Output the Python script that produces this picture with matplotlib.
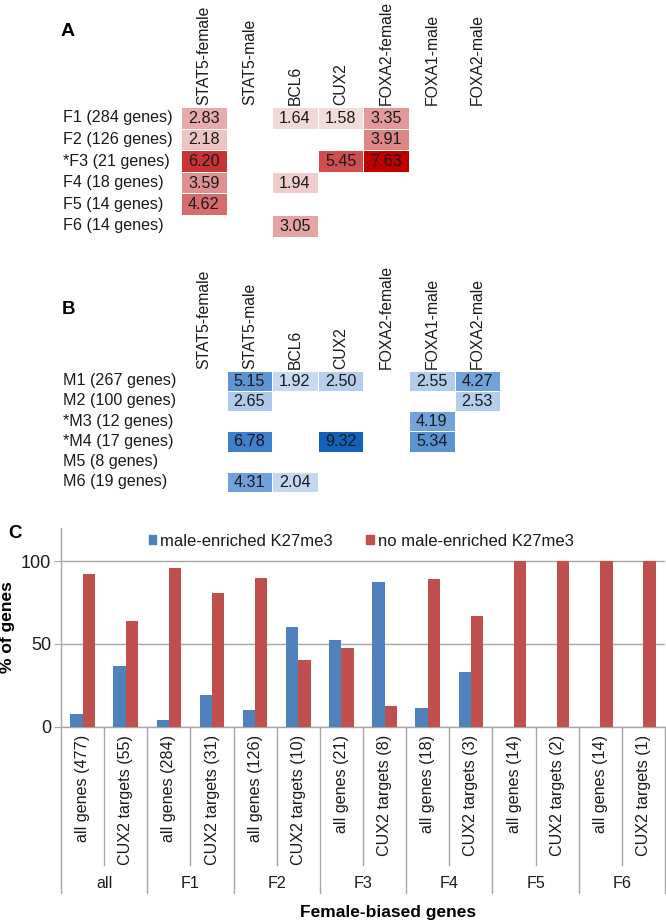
import numpy as np
import matplotlib
matplotlib.use("Agg")
import matplotlib.pyplot as plt
from matplotlib.colors import LinearSegmentedColormap
from matplotlib.transforms import blended_transform_factory
from matplotlib.patches import Patch

plt.rcParams['font.family'] = ['Liberation Sans', 'DejaVu Sans']

nan = np.nan
# ---------------- data ----------------
factors = ['STAT5-female', 'STAT5-male', 'BCL6', 'CUX2', 'FOXA2-female', 'FOXA1-male', 'FOXA2-male']

a_rows = ['F1 (284 genes)', 'F2 (126 genes)', '*F3 (21 genes)', 'F4 (18 genes)',
          'F5 (14 genes)', 'F6 (14 genes)']
a_F1 = [2.83, nan, 1.64, 1.58, 3.35, nan, nan]
a_F2 = [2.18, nan, nan, nan, 3.91, nan, nan]
a_F3 = [6.20, nan, nan, 5.45, 7.63, nan, nan]
a_F4 = [3.59, nan, 1.94, nan, nan, nan, nan]
a_F5 = [4.62, nan, nan, nan, nan, nan, nan]
a_F6 = [nan, nan, 3.05, nan, nan, nan, nan]

b_rows = ['M1 (267 genes)', 'M2 (100 genes)', '*M3 (12 genes)', '*M4 (17 genes)',
          'M5 (8 genes)', 'M6 (19 genes)']
b_M1 = [nan, 5.15, 1.92, 2.50, nan, 2.55, 4.27]
b_M2 = [nan, 2.65, nan, nan, nan, nan, 2.53]
b_M3 = [nan, nan, nan, nan, nan, 4.19, nan]
b_M4 = [nan, 6.78, nan, 9.32, nan, 5.34, nan]
b_M5 = [nan, nan, nan, nan, nan, nan, nan]
b_M6 = [nan, 4.31, 2.04, nan, nan, nan, nan]

c_categories = ['all genes (477)', 'CUX2 targets (55)', 'all genes (284)', 'CUX2 targets (31)',
                'all genes (126)', 'CUX2 targets (10)', 'all genes (21)', 'CUX2 targets (8)',
                'all genes (18)', 'CUX2 targets (3)', 'all genes (14)', 'CUX2 targets (2)',
                'all genes (14)', 'CUX2 targets (1)']
c_groups = ['all', 'F1', 'F2', 'F3', 'F4', 'F5', 'F6']
male_enriched = [7.5, 36.4, 3.9, 19.4, 10.3, 60.0, 52.4, 87.5, 11.1, 33.3, 0, 0, 0, 0]
no_male_enriched = [92.5, 63.6, 96.1, 80.6, 89.7, 40.0, 47.6, 12.5, 88.9, 66.7, 100, 100, 100, 100]

# ---------------- figure ----------------
W, H = 666, 924
fig = plt.figure(figsize=(W / 100, H / 100), dpi=100)

def rect(l, t, r, b):
    return [l / W, 1 - b / H, (r - l) / W, (b - t) / H]

def fpt(x, y):
    return x / W, 1 - y / H

FS = 11.6
FS_COL = 11.3
TC = '#1a1a1a'

def make_cmap(nodes, vmin, vmax):
    pos = [(v - vmin) / (vmax - vmin) for v, _ in nodes]
    return LinearSegmentedColormap.from_list('c', list(zip(pos, [c for _, c in nodes])))

red_nodes = [(1.5, '#F3DEDE'), (2.83, '#E6ABAB'), (3.91, '#DC8686'), (4.62, '#D66C6C'),
             (6.2, '#C93434'), (7.63, '#C00000')]
blue_nodes = [(1.9, '#C6DAF1'), (2.6, '#B0CBEB'), (4.25, '#70A3DA'), (5.2, '#5C94D3'),
              (6.78, '#3F80CC'), (9.32, '#1262BC')]
cmap_r = make_cmap(red_nodes, 1.5, 7.63)
cmap_b = make_cmap(blue_nodes, 1.9, 9.32)

def heat(axrect, rows, data, cmap, vmin, vmax, row_top, row_h, lab_off):
    ax = fig.add_axes(axrect)
    arr = np.ma.masked_invalid(np.array(data, dtype=float))
    ax.pcolormesh(np.arange(len(factors) + 1), np.arange(len(rows) + 1), arr,
                  cmap=cmap, vmin=vmin, vmax=vmax, edgecolors='white', linewidth=0.6)
    ax.set_xlim(0, len(factors))
    ax.set_ylim(len(rows), 0)
    ax.axis('off')
    for i in range(arr.shape[0]):
        for j in range(arr.shape[1]):
            if not np.ma.is_masked(arr[i, j]):
                ax.text(j + 0.5, i + 0.52, f"{arr[i, j]:.2f}", ha='center', va='center',
                        fontsize=FS, color=TC)
    for j, f in enumerate(factors):
        ax.text(j + 0.5, -lab_off, f, rotation=90, ha='center', va='bottom',
                fontsize=FS_COL, color=TC, clip_on=False)
    for i, r in enumerate(rows):
        fig.text(*fpt(62.7, row_top + row_h * (i + 0.5)), r, ha='left', va='center',
                 fontsize=FS, color=TC)
    return ax

# Panel A
heat(rect(181, 107, 500.2, 236.6), a_rows, [a_F1, a_F2, a_F3, a_F4, a_F5, a_F6],
     cmap_r, 1.5, 7.63, 107, 21.6, 0.07)
fig.text(*fpt(61, 32), 'A', fontsize=14, fontweight='bold', ha='left', va='center')

# Panel B
heat(rect(181, 370.7, 500.2, 492), b_rows, [b_M1, b_M2, b_M3, b_M4, b_M5, b_M6],
     cmap_b, 1.9, 9.32, 370.7, 20.2, 0.08)
fig.text(*fpt(61.5, 309), 'B', fontsize=13.5, fontweight='bold', ha='left', va='center')

# Panel C
blue = '#4F81BD'
red = '#C0504D'
grey = '#A6A6A6'
axc = fig.add_axes(rect(61, 528, 665, 726.7))
x = np.arange(len(c_categories))
bw = 0.285
b1 = axc.bar(x - bw / 2, male_enriched, bw, color=blue, zorder=3)
b2 = axc.bar(x + bw / 2, no_male_enriched, bw, color=red, zorder=3)
axc.set_xlim(-0.5, len(c_categories) - 0.5)
axc.set_ylim(0, 120)
axc.set_yticks([0, 50, 100])
axc.set_yticklabels(['0', '50', '100'])
axc.yaxis.grid(True, color=grey, linewidth=1)
axc.set_axisbelow(True)
axc.set_xticks([])
for s in ['top', 'right']:
    axc.spines[s].set_visible(False)
for s in ['left', 'bottom']:
    axc.spines[s].set_color(grey)
    axc.spines[s].set_linewidth(1)
axc.tick_params(axis='y', length=5, color=grey, labelsize=13, pad=2, labelcolor=TC)

trans = blended_transform_factory(axc.transData, axc.transAxes)
axh = 726.7 - 528
short_y = -(865 - 726.7) / axh
long_y = -(893 - 726.7) / axh
for k in range(len(c_categories) + 1):
    xb = k - 0.5
    yb = long_y if k % 2 == 0 else short_y
    axc.plot([xb, xb], [0, yb], transform=trans, color=grey, lw=1, clip_on=False)
lab_y = -(735 - 726.7) / axh
for k, c in enumerate(c_categories):
    axc.text(k, lab_y, c, rotation=90, ha='center', va='top', fontsize=FS,
             color=TC, transform=trans)
grp_y = -(884 - 726.7) / axh
for g, name in enumerate(c_groups):
    axc.text(2 * g + 0.5, grp_y, name, ha='center', va='center', fontsize=FS,
             color=TC, transform=trans)

leg = axc.legend([Patch(color=blue), Patch(color=red)],
                 ['male-enriched K27me3', 'no male-enriched K27me3'],
                 loc='center', bbox_to_anchor=(0.497, (726.7 - 541) / axh), ncol=2,
                 frameon=False, handlelength=0.45, handleheight=0.45, handletextpad=0.25,
                 columnspacing=2.0, fontsize=12, borderaxespad=0)
for t in leg.get_texts():
    t.set_color(TC)

fig.text(*fpt(8, 534), 'C', fontsize=13.5, fontweight='bold', ha='left', va='center')
fig.text(*fpt(7.5, 627), '% of genes', rotation=90, fontsize=12.5, fontweight='bold',
         ha='center', va='center')
fig.text(*fpt(388, 913), 'Female-biased genes', fontsize=12.5, fontweight='bold',
         ha='center', va='center')

fig.savefig('out.png', dpi=100)
